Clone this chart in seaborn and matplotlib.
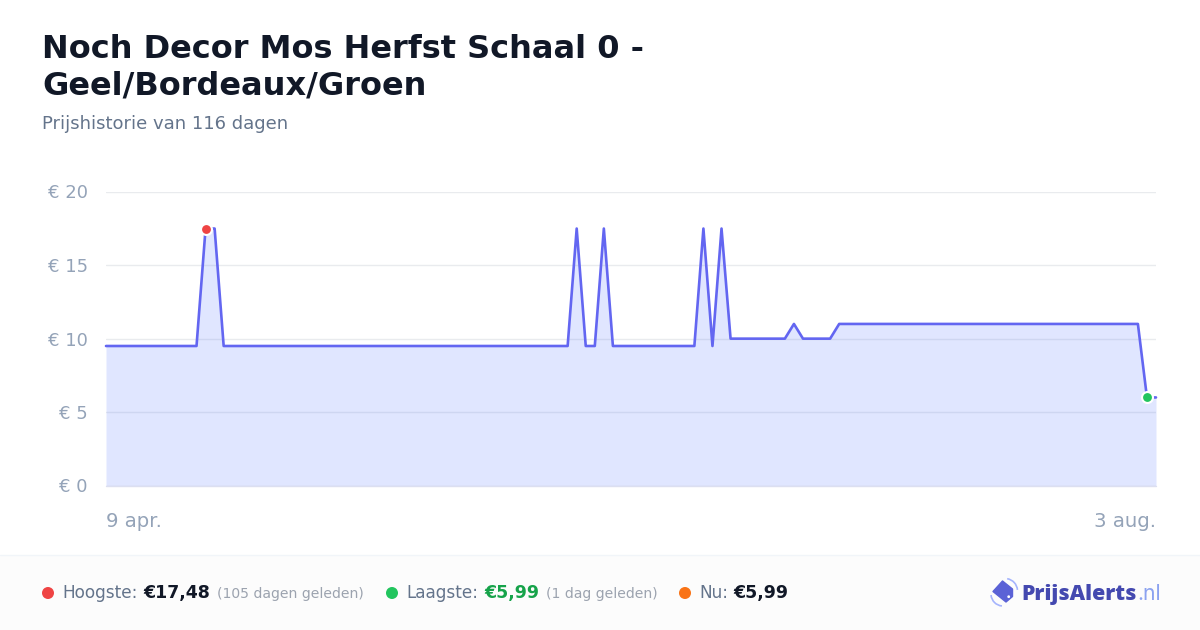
import matplotlib
matplotlib.use("Agg")
import matplotlib.pyplot as plt
import pandas as pd
import seaborn as sns
from matplotlib.patches import Arc, Circle, Polygon, Rectangle

# prijs per dag, 9 apr. t/m 3 aug.
prijzen = [
    9.49, 9.49, 9.49, 9.49, 9.49, 9.49, 9.49, 9.49, 9.49, 9.49,
    9.49, 17.48, 17.48, 9.49, 9.49, 9.49, 9.49, 9.49, 9.49, 9.49,
    9.49, 9.49, 9.49, 9.49, 9.49, 9.49, 9.49, 9.49, 9.49, 9.49,
    9.49, 9.49, 9.49, 9.49, 9.49, 9.49, 9.49, 9.49, 9.49, 9.49,
    9.49, 9.49, 9.49, 9.49, 9.49, 9.49, 9.49, 9.49, 9.49, 9.49,
    9.49, 9.49, 17.48, 9.49, 9.49, 17.48, 9.49, 9.49, 9.49, 9.49,
    9.49, 9.49, 9.49, 9.49, 9.49, 9.49, 17.48, 9.49, 17.48, 9.99,
    9.99, 9.99, 9.99, 9.99, 9.99, 9.99, 10.99, 9.99, 9.99, 9.99,
    9.99, 10.99, 10.99, 10.99, 10.99, 10.99, 10.99, 10.99, 10.99, 10.99,
    10.99, 10.99, 10.99, 10.99, 10.99, 10.99, 10.99, 10.99, 10.99, 10.99,
    10.99, 10.99, 10.99, 10.99, 10.99, 10.99, 10.99, 10.99, 10.99, 10.99,
    10.99, 10.99, 10.99, 10.99, 10.99, 5.99, 5.99,
]
y_ticks = [0, 5, 10, 15, 20]
y_labels = ["€ 0", "€ 5", "€ 10", "€ 15", "€ 20"]
x_labels = ["9 apr.", "3 aug."]

df = pd.DataFrame({"dag": range(len(prijzen)), "prijs": prijzen})
hoogste = df.loc[[df["prijs"].idxmax()]]
laagste = df.loc[[df["prijs"].idxmin()]]

sns.set_style("white")
plt.rcParams["font.family"] = ["DejaVu Sans"]

LIJN = "#6366f1"
TICK = "#94a3b8"
DONKER = "#111827"
GRIJS = "#64748b"
KLEIN = "#9ca3af"

fig = plt.figure(figsize=(12, 6.3), dpi=100, facecolor="white")

# overlay in pixels voor koptekst en footer
bg = fig.add_axes([0, 0, 1, 1], zorder=0)
bg.set_xlim(0, 1200)
bg.set_ylim(630, 0)
bg.axis("off")
bg.add_patch(Rectangle((0, 555), 1200, 75, facecolor="#fcfcfc", edgecolor="none"))
bg.plot([0, 1200], [554.5, 554.5], color="#f1f5f9", lw=1)

bg.text(42, 57.5, "Noch Decor Mos Herfst Schaal 0 -", fontsize=23, fontweight="bold", color=DONKER, va="baseline")
bg.text(42, 94.5, "Geel/Bordeaux/Groen", fontsize=23, fontweight="bold", color=DONKER, va="baseline")
bg.text(42, 129, "Prijshistorie van 116 dagen", fontsize=13, color=GRIJS, va="baseline")

# grafiek
ax = fig.add_axes([106 / 1200, (630 - 485.5) / 630, 1050 / 1200, (485.5 - 191.5) / 630], zorder=1)
ax.patch.set_alpha(0)
ax.set_axisbelow(True)
ax.grid(axis="y", color="#e9ebee", lw=1)
ax.fill_between(df["dag"], df["prijs"], 0, color="#6482ff", alpha=0.2, lw=0, zorder=2)
ax.axhline(0, color="#dcdff0", lw=1, clip_on=False, zorder=2.5)
sns.lineplot(data=df, x="dag", y="prijs", color=LIJN, lw=1.9, ax=ax, zorder=3, clip_on=False)
sns.scatterplot(data=hoogste, x="dag", y="prijs", color="#ef4444", s=62, edgecolor="white", linewidth=1.5,
                ax=ax, zorder=4, clip_on=False)
sns.scatterplot(data=laagste, x="dag", y="prijs", color="#22c55e", s=62, edgecolor="white", linewidth=1.5,
                ax=ax, zorder=4, clip_on=False)

ax.set_xlim(0, len(prijzen) - 1)
ax.set_ylim(0, 20)
ax.set_xlabel("")
ax.set_ylabel("")
ax.set_yticks(y_ticks)
ax.set_yticklabels(y_labels, fontsize=13, color=TICK)
ax.set_xticks([0, len(prijzen) - 1])
ax.set_xticklabels(x_labels, fontsize=14.2, color=TICK)
ax.get_xticklabels()[0].set_ha("left")
ax.get_xticklabels()[1].set_ha("right")
ax.tick_params(axis="y", length=0, pad=13)
ax.tick_params(axis="x", length=0, pad=19)
sns.despine(ax=ax, left=True, right=True, top=True, bottom=True)

# footer
voet_y = 598
bg.add_patch(Circle((48, 593), 6, color="#ef4444", lw=0))
bg.text(62, voet_y, "Hoogste:", fontsize=12.2, color=GRIJS, va="baseline")
bg.text(143, voet_y, "€17,48", fontsize=12.5, fontweight="bold", color=DONKER, va="baseline")
bg.text(217, voet_y, "(105 dagen geleden)", fontsize=10.1, color=KLEIN, va="baseline")
bg.add_patch(Circle((392, 593), 6, color="#22c55e", lw=0))
bg.text(406, voet_y, "Laagste:", fontsize=12.2, color=GRIJS, va="baseline")
bg.text(484, voet_y, "€5,99", fontsize=12.5, fontweight="bold", color="#16a34a", va="baseline")
bg.text(546, voet_y, "(1 dag geleden)", fontsize=10.1, color=KLEIN, va="baseline")
bg.add_patch(Circle((685, 593), 6, color="#f97316", lw=0))
bg.text(699, voet_y, "Nu:", fontsize=12.2, color=GRIJS, va="baseline")
bg.text(733, voet_y, "€5,99", fontsize=12.5, fontweight="bold", color=DONKER, va="baseline")

# logo
bg.add_patch(Arc((1005, 591), 25, 25, theta1=-80, theta2=-5, color="#a5b4fc", lw=1.2))
bg.add_patch(Arc((1003, 594), 24, 24, theta1=95, theta2=175, color="#a5b4fc", lw=1.2))
bg.add_patch(Polygon([(1002.5, 581), (1012.5, 589), (1012.5, 596.5), (1006, 602), (993, 591.5)],
                     closed=True, facecolor="#5b62d6", edgecolor="#5b62d6", lw=1, joinstyle="round", zorder=3))
bg.add_patch(Circle((1008.7, 596.7), 1.4, color="white", lw=0, zorder=4))
bg.text(1021, 600, "PrijsAlerts", family="Open Sans", fontsize=15.4, fontweight=800, color="#4449b0", va="baseline")
bg.text(1137, 600, ".nl", family="Inter", fontsize=15.3, color="#8ba2f0", va="baseline")

plt.savefig("out.png", dpi=100, facecolor="white")
